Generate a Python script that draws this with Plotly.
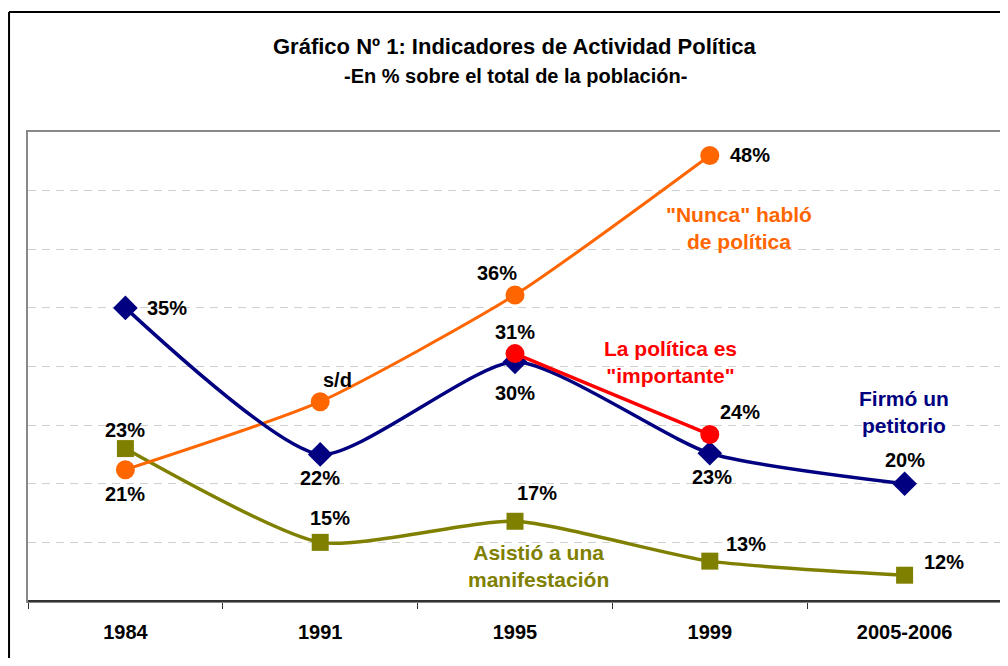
import plotly.graph_objects as go

categories = ["1984", "1991", "1995", "1999", "2005-2006"]
firmo = [35, 22.5, 30.4, 22.6, 20]
firmo_labels = ["35%", "22%", "30%", "23%", "20%"]
nunca = [21.2, 27, 36.1, 48, None]
nunca_labels = ["21%", "s/d", "36%", "48%", None]
importante = [None, None, 31.1, 24.2, None]
importante_labels = [None, None, "31%", "24%", None]
asistio = [23, 15, 16.8, 13.4, 12.2]
asistio_labels = ["23%", "15%", "17%", "13%", "12%"]

NAVY = "#000080"
ORANGE = "#FF6600"
RED = "#FF0000"
OLIVE = "#808000"
FONT = "Liberation Sans"

# label offsets (pixels)
firmo_off = [(42, 0), (0, -24), (0, -31), (2, -24), (0, 24)]
nunca_off = [(0, -24), (17, 22), (-18, 22), (40, 0), None]
imp_off = [None, None, (0, 22), (30, 23), None]
asis_off = [(0, 19), (10, 24), (22, 28), (36, 17), (39, 13)]

SM = 0.6
fig = go.Figure()
fig.add_trace(go.Scatter(x=categories, y=asistio, mode="lines+markers",
                         line=dict(color=OLIVE, width=3.5, shape="spline", smoothing=SM),
                         marker=dict(symbol="square", size=17, color=OLIVE)))
fig.add_trace(go.Scatter(x=categories, y=nunca, mode="lines+markers",
                         line=dict(color=ORANGE, width=3, shape="spline", smoothing=SM),
                         marker=dict(symbol="circle", size=19, color=ORANGE)))
fig.add_trace(go.Scatter(x=categories, y=firmo, mode="lines+markers",
                         line=dict(color=NAVY, width=3.5, shape="spline", smoothing=SM),
                         marker=dict(symbol="diamond", size=19, color=NAVY)))
fig.add_trace(go.Scatter(x=categories, y=importante, mode="lines+markers",
                         line=dict(color=RED, width=3.5),
                         marker=dict(symbol="circle", size=19, color=RED)))

annotations = []
lblfont = dict(family=FONT, size=20, color="black")
for vals, labs, offs in [(firmo, firmo_labels, firmo_off), (nunca, nunca_labels, nunca_off),
                         (importante, importante_labels, imp_off), (asistio, asistio_labels, asis_off)]:
    for i, (v, l, o) in enumerate(zip(vals, labs, offs)):
        if v is None or l is None:
            continue
        annotations.append(dict(x=i, y=v, xref="x", yref="y", text="<b>%s</b>" % l,
                                showarrow=False, xshift=o[0], yshift=o[1], font=lblfont,
                                xanchor="center", yanchor="middle"))

def px(xp, yp):
    return (xp - 28) / 976.0, (601 - yp) / 469.0

series_names = [
    ("\"Nunca\" habló<br>de política", ORANGE, 740, 228),
    ("La política es<br>\"importante\"", RED, 672, 362),
    ("Firmó un<br>petitorio", NAVY, 906, 412),
    ("Asistió a una<br>manifestación", OLIVE, 540, 566),
]
for t, col, xp, yp in series_names:
    x, y = px(xp, yp)
    annotations.append(dict(xref="paper", yref="paper", x=x, y=y, text="<b>%s</b>" % t,
                            showarrow=False, align="center", xanchor="center", yanchor="middle",
                            font=dict(family=FONT, size=21, color=col)))

x, y = px(516, 47)
annotations.append(dict(xref="paper", yref="paper", x=x, y=y,
                        text="<b>Gráfico Nº 1: Indicadores de Actividad Política</b>",
                        showarrow=False, xanchor="center", yanchor="middle",
                        font=dict(family=FONT, size=22, color="black")))
x, y = px(516, 76)
annotations.append(dict(xref="paper", yref="paper", x=x, y=y,
                        text="<b>-En % sobre el total de la población-</b>",
                        showarrow=False, xanchor="center", yanchor="middle",
                        font=dict(family=FONT, size=20, color="black")))

shapes = [
    # outer chart border (left and top)
    dict(type="line", xref="paper", yref="paper", x0=(9 - 28) / 976.0, x1=(9 - 28) / 976.0,
         y0=(601 - 670) / 469.0, y1=(601 - 12) / 469.0, line=dict(color="black", width=2)),
    dict(type="line", xref="paper", yref="paper", x0=(9 - 28) / 976.0, x1=(1012 - 28) / 976.0,
         y0=(601 - 12) / 469.0, y1=(601 - 12) / 469.0, line=dict(color="black", width=2)),
    # dark bottom axis line
    dict(type="line", xref="paper", yref="paper", x0=0, x1=1, y0=0, y1=0,
         line=dict(color="#333333", width=2)),
]

fig.update_layout(
    width=1000, height=650,
    margin=dict(l=20, r=4, t=124, b=57),
    paper_bgcolor="white", plot_bgcolor="white",
    showlegend=False,
    annotations=annotations, shapes=shapes,
    xaxis=dict(type="category", range=[-0.5, 4.5], tickson="boundaries", ticks="outside",
               ticklen=6, tickcolor="#333333", showgrid=False, showline=True,
               linecolor="#888888", linewidth=2, mirror=True, ticklabelstandoff=12,
               tickfont=dict(family=FONT, size=20, color="black"),
               tickprefix="<b>", ticksuffix="</b>", zeroline=False),
    yaxis=dict(range=[10, 50], dtick=5, showticklabels=False, ticks="",
               showgrid=True, gridcolor="#D0D0D0", gridwidth=1, griddash="8px,6px",
               showline=True, linecolor="#888888", linewidth=2, mirror=True, zeroline=False),
)

fig.write_html("out.html")
